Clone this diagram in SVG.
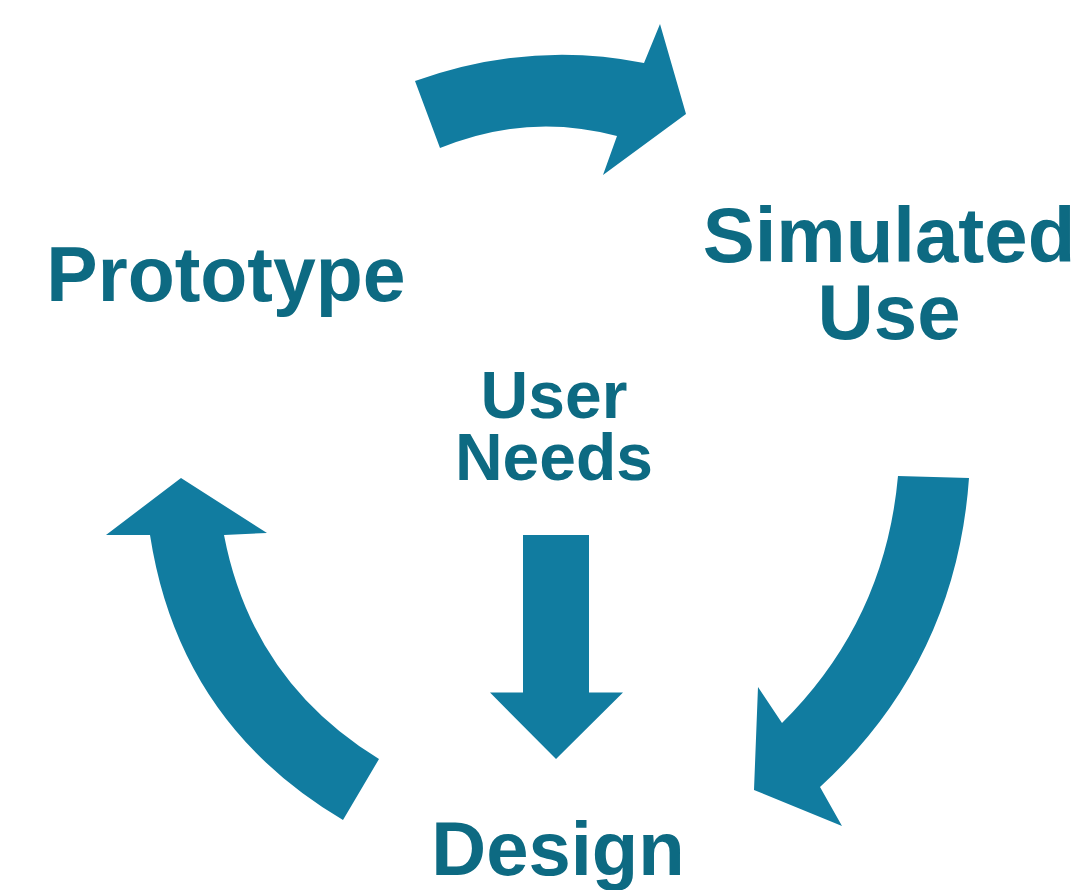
<svg xmlns="http://www.w3.org/2000/svg" width="1080" height="890" viewBox="0 0 1080 890">
<style>
.arrow{fill:#117ca0;stroke:none}
.lbl{font-family:"Liberation Sans",Arial,sans-serif;font-weight:bold;fill:#0d6a82;text-anchor:middle}
</style>
<rect width="1080" height="890" fill="#ffffff"/>
<g id="connectors">
<path id="arrow-prototype-simulated" class="arrow" d="M415,81 Q530,40 644,63 L660,24 L686,114 L603,175 L617,136 Q528,112 440,148 Z"/>
<path id="arrow-simulated-design" class="arrow" d="M898,476 L969,478 Q956,662 820,787 L842,826 L754,790 L758,687 L782,723 Q885,621 898,476 Z"/>
<path id="arrow-design-prototype" class="arrow" d="M181,478 L267,533 L224,535 Q252,681 379,759 L343,820 Q179,723 150,535 L106,535 Z"/>
<path id="arrow-needs-design" class="arrow" d="M523,535 L589,535 L589,692.5 L623,692.5 L556,759 L490,692.5 L523,692.5 Z"/>
</g>
<g id="node-prototype"><text class="lbl" x="226" y="301" font-size="77">Prototype</text></g>
<g id="node-simulated-use"><text class="lbl" x="889" y="262" font-size="78">Simulated</text><text class="lbl" x="889" y="339" font-size="78">Use</text></g>
<g id="node-user-needs"><text class="lbl" x="554" y="418" font-size="66">User</text><text class="lbl" x="554" y="480" font-size="66">Needs</text></g>
<g id="node-design"><text class="lbl" x="558" y="875" font-size="76">Design</text></g>
</svg>
